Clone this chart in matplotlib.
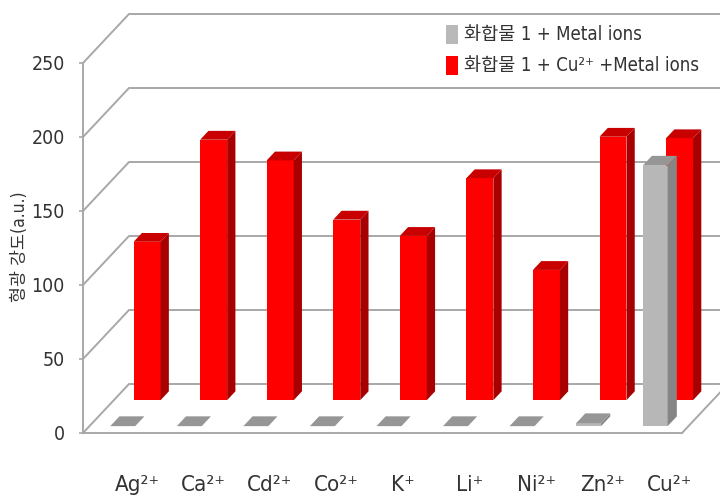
import matplotlib
matplotlib.use('Agg')
import matplotlib.pyplot as plt
from matplotlib.patches import Polygon, Patch

ions = ['Ag²⁺', 'Ca²⁺', 'Cd²⁺', 'Co²⁺', 'K⁺', 'Li⁺', 'Ni²⁺', 'Zn²⁺', 'Cu²⁺']
metal_only = [0, 0, 0, 0, 0, 0, 0, 2, 176]
with_copper = [107, 176, 162, 122, 111, 150, 88, 178, 177]
y_ticks = [0, 50, 100, 150, 200, 250]

plt.rcParams['font.family'] = ['DejaVu Sans', 'Noto Sans CJK KR']
plt.rcParams['font.stretch'] = 'condensed'

W, H = 720, 504
fig = plt.figure(figsize=(W / 100, H / 100), dpi=100)
ax = fig.add_axes([83 / W, (H - 433) / H, 599 / W, 370 / H])
ax.set_xlim(0, len(ions))
ax.set_ylim(0, 250)

# depth of the floor, in axis units
depth_x = 46 / (599 / len(ions))
depth_y = 49 / (370 / 250)
grid_col = '#a8a8a8'


def box(i, value, start, width, thick, front, side, top, z):
    # one bar: front face, right face and lid, pushed back by start
    left = i + 0.5 - width / 2 + start * depth_x
    right = left + width
    base = start * depth_y
    dx, dy = thick * depth_x, thick * depth_y
    if value > 0:
        ax.add_patch(Polygon([(left, base), (right, base), (right, base + value), (left, base + value)],
                             fc=front, ec='none', clip_on=False, zorder=z))
        ax.add_patch(Polygon([(right, base), (right + dx, base + dy), (right + dx, base + value + dy), (right, base + value)],
                             fc=side, ec='none', clip_on=False, zorder=z))
    ax.add_patch(Polygon([(left, base + value), (right, base + value), (right + dx, base + value + dy), (left + dx, base + value + dy)],
                         fc=top, ec='none', clip_on=False, zorder=z))


# walls and floor
for v in y_ticks:
    ax.plot([0, depth_x, len(ions) + 2], [v, v + depth_y, v + depth_y], color=grid_col, lw=1.4,
            clip_on=False, zorder=1, solid_joinstyle='miter')
ax.plot([len(ions), len(ions) + depth_x], [0, depth_y], color=grid_col, lw=1.4, clip_on=False, zorder=1)

for i, v in enumerate(with_copper):
    box(i, v, 0.67, 0.405, 0.18, '#ff0000', '#a80000', '#c80000', 3)
for i, v in enumerate(metal_only):
    box(i, v, 0.14, 0.375, 0.2, '#b7b7b7', '#858585', '#969696', 4)

for s in ['top', 'right']:
    ax.spines[s].set_visible(False)
for s in ['left', 'bottom']:
    ax.spines[s].set_color(grid_col)
    ax.spines[s].set_linewidth(1.4)
    ax.spines[s].set_zorder(2)
ax.patch.set_visible(False)

ax.set_yticks(y_ticks)
ax.tick_params(axis='y', length=3, width=1.2, color=grid_col, labelsize=14, labelcolor='#333333', pad=10)
ax.set_xticks([i + 0.81 for i in range(len(ions))])
ax.set_xticklabels(ions, fontsize=16, color='#333333')
ax.tick_params(axis='x', length=0, pad=30)
ax.set_ylabel('형광 강도(a.u.)', fontsize=12.5, color='#333333')
ax.yaxis.set_label_coords(-54 / 599, 0.503)

handles = [Patch(fc='#b9b9b9', ec='none'), Patch(fc='#ff0000', ec='none')]
ax.legend(handles, ['화합물 1 + Metal ions', '화합물 1 + Cu²⁺ +Metal ions'],
          loc='upper left', bbox_to_anchor=(440 / W, (H - 19) / H), bbox_transform=fig.transFigure,
          frameon=False, fontsize=13.4, handlelength=0.65, handleheight=1.2, handletextpad=0.35,
          labelspacing=0.6, borderpad=0.3, borderaxespad=0, labelcolor='#333333')

fig.savefig('out.png', dpi=100, facecolor='white')
